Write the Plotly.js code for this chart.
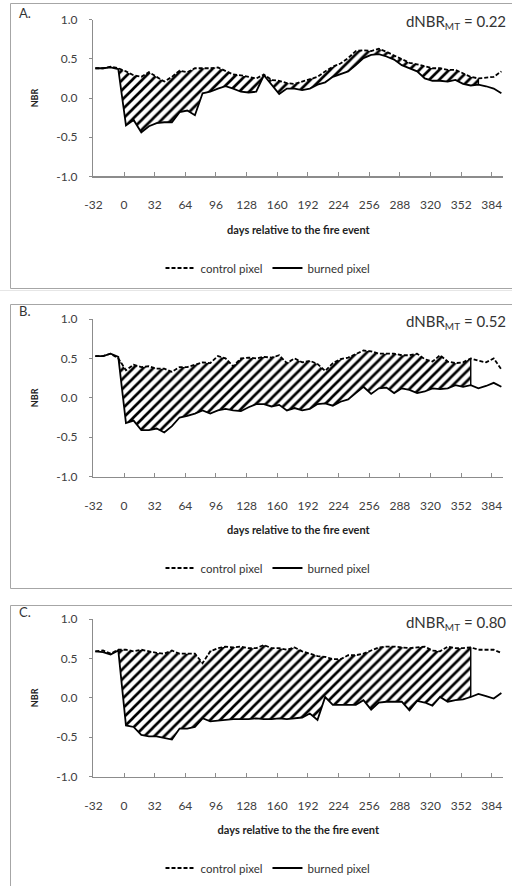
<!DOCTYPE html>
<html><head><meta charset="utf-8">
<script src="https://cdn.plot.ly/plotly-3.0.1.min.js"></script>
<style>html,body{margin:0;padding:0;background:#fff}#chart{width:512px;height:886px}</style>
</head><body><div id="chart"></div>
<script>
// ---- data ----
const days = [
  -30,-22,-14,-6,2,10,18,26,34,
  42,50,58,66,74,82,90,98,106,
  114,122,130,138,146,154,162,170,178,
  186,194,202,210,218,226,234,242,250,
  258,266,274,282,290,298,306,314,322,
  330,338,346,354,362,370,378,386,394
];
const controlA = [
  0.38,0.38,0.40,0.38,0.34,0.29,0.27,0.33,0.27,
  0.21,0.27,0.35,0.33,0.38,0.38,0.38,0.39,0.34,
  0.30,0.29,0.27,0.25,0.30,0.23,0.22,0.19,0.18,
  0.21,0.23,0.27,0.34,0.40,0.44,0.51,0.60,0.61,
  0.60,0.63,0.59,0.54,0.49,0.45,0.43,0.40,0.38,
  0.38,0.36,0.36,0.31,0.27,0.25,0.26,0.27,0.34
];
const burnedA = [
  0.38,0.38,0.39,0.37,-0.35,-0.28,-0.44,-0.36,-0.32,
  -0.31,-0.31,-0.18,-0.16,-0.22,0.06,0.08,0.12,0.15,
  0.12,0.08,0.07,0.08,0.29,0.17,0.05,0.12,0.12,
  0.10,0.12,0.17,0.20,0.27,0.31,0.34,0.42,0.51,
  0.55,0.56,0.53,0.49,0.42,0.38,0.34,0.25,0.22,
  0.22,0.21,0.23,0.18,0.16,0.17,0.15,0.12,0.06
];
const controlB = [
  0.53,0.53,0.56,0.50,0.35,0.42,0.39,0.40,0.37,
  0.37,0.33,0.39,0.39,0.42,0.45,0.44,0.53,0.50,
  0.40,0.50,0.51,0.50,0.52,0.51,0.54,0.44,0.50,
  0.45,0.47,0.43,0.34,0.44,0.49,0.51,0.56,0.60,
  0.59,0.56,0.56,0.56,0.54,0.54,0.56,0.49,0.46,
  0.54,0.46,0.44,0.45,0.50,0.47,0.45,0.50,0.36
];
const burnedB = [
  0.53,0.53,0.56,0.52,-0.32,-0.29,-0.41,-0.41,-0.39,
  -0.44,-0.36,-0.25,-0.23,-0.20,-0.16,-0.20,-0.16,-0.14,
  -0.16,-0.17,-0.12,-0.08,-0.08,-0.11,-0.09,-0.16,-0.13,
  -0.16,-0.14,-0.08,-0.07,-0.10,-0.05,-0.02,0.06,0.14,
  0.05,0.12,0.13,0.06,0.12,0.10,0.06,0.08,0.12,
  0.11,0.12,0.16,0.14,0.16,0.12,0.15,0.19,0.14
];
const controlC = [
  0.59,0.60,0.56,0.61,0.61,0.59,0.61,0.59,0.57,
  0.56,0.60,0.56,0.56,0.56,0.44,0.59,0.63,0.65,
  0.64,0.65,0.63,0.63,0.67,0.63,0.63,0.61,0.64,
  0.59,0.56,0.53,0.52,0.49,0.49,0.54,0.54,0.56,
  0.60,0.64,0.65,0.65,0.64,0.63,0.64,0.65,0.60,
  0.59,0.65,0.63,0.63,0.64,0.61,0.61,0.61,0.57
];
const burnedC = [
  0.59,0.58,0.55,0.60,-0.35,-0.37,-0.47,-0.49,-0.49,
  -0.51,-0.53,-0.39,-0.39,-0.37,-0.26,-0.30,-0.29,-0.28,
  -0.27,-0.27,-0.27,-0.26,-0.27,-0.27,-0.26,-0.27,-0.26,
  -0.25,-0.20,-0.28,0.01,-0.09,-0.09,-0.09,-0.09,-0.03,
  -0.15,-0.06,-0.05,-0.05,-0.05,-0.16,-0.04,-0.06,-0.10,
  0.01,-0.05,-0.03,-0.02,0.01,0.05,0.02,-0.01,0.06
];
const panelLetters = ['A.', 'B.', 'C.'];
const dnbrValues = ['0.22', '0.52', '0.80'];
const xTitles = ['days relative to the fire event', 'days relative to the fire event', 'days relative to the the fire event'];
const seriesNames = ['control pixel', 'burned pixel'];
const xTickVals = [-32,0,32,64,96,128,160,192,224,256,288,320,352,384];
const xTickText = ['-32','0','32','64','96','128','160','192','224','256','288','320','352','384'];
const yTickVals = [-1,-0.5,0,0.5,1];
const yTickText = ['-1.0','-0.5','0.0','0.5','1.0'];
const fillStartDay = -6;
const fillEndDay = [370, 362, 362];

const controls = [controlA, controlB, controlC];
const burneds = [burnedA, burnedB, burnedC];

// ---- geometry (pixels) ----
const W = 512, H = 886;
const py = v => 1 - v / H;
const pxx = v => v / W;
const panels = [
  {top: 19.7, bottom: 176.3, frameTop: 3.5, frameBottom: 288.5, letterY: 12.7, dnbrY: 21.7, legendY: 268},
  {top: 319, bottom: 476.6, frameTop: 304.5, frameBottom: 588.5, letterY: 310.7, dnbrY: 321.7, legendY: 568},
  {top: 619, bottom: 776.6, frameTop: 605.5, frameBottom: 905, letterY: 611.7, dnbrY: 622.7, legendY: 868}
];
const FONT = 'Lato, "Open Sans", sans-serif';
const AXC = '#8c8c8c';

const traces = [];
const layout = {
  width: W, height: H,
  margin: {l: 0, r: 0, t: 0, b: 0},
  paper_bgcolor: '#fff', plot_bgcolor: 'rgba(0,0,0,0)',
  font: {family: FONT, color: '#333'},
  showlegend: true,
  shapes: [], annotations: []
};

panels.forEach((P, p) => {
  const s = p === 0 ? '' : String(p + 1);
  const xa = 'x' + s, ya = 'y' + s;
  const ctrl = controls[p], burn = burneds[p];
  const idx = days.map((d, i) => i).filter(i => days[i] >= fillStartDay && days[i] <= fillEndDay[p]);
  const segX = idx.map(i => days[i]);
  const last = idx[idx.length - 1];

  traces.push({x: segX, y: idx.map(i => burn[i]), xaxis: xa, yaxis: ya, mode: 'lines',
    line: {width: 0, color: 'rgba(0,0,0,0)'}, showlegend: false, hoverinfo: 'skip'});
  traces.push({x: segX, y: idx.map(i => ctrl[i]), xaxis: xa, yaxis: ya, mode: 'lines',
    line: {width: 0, color: 'rgba(0,0,0,0)'}, fill: 'tonexty', fillcolor: '#fff',
    fillpattern: {shape: '/', fgcolor: '#000', bgcolor: '#fff', size: 7, solidity: 0.38},
    showlegend: false, hoverinfo: 'skip'});
  // closing edge of the hatched area
  traces.push({x: [days[last], days[last]], y: [burn[last], ctrl[last]], xaxis: xa, yaxis: ya,
    mode: 'lines', line: {width: 1.4, color: '#000'}, showlegend: false, hoverinfo: 'skip'});
  traces.push({x: days, y: ctrl, xaxis: xa, yaxis: ya, mode: 'lines', name: seriesNames[0],
    line: {color: '#000', width: 1.8, dash: '4px,2px'}, legend: 'legend' + s});
  traces.push({x: days, y: burn, xaxis: xa, yaxis: ya, mode: 'lines', name: seriesNames[1],
    line: {color: '#000', width: 1.8}, legend: 'legend' + s});

  layout['xaxis' + s] = {
    domain: [pxx(93.4), pxx(503.3)], range: [-32, 396], anchor: ya,
    tickmode: 'array', tickvals: xTickVals, ticktext: xTickText,
    ticks: 'inside', ticklen: 4, tickwidth: 1, tickcolor: AXC,
    showline: true, linecolor: AXC, linewidth: 1.5, showgrid: false, zeroline: false,
    tickfont: {family: FONT, size: 12, color: '#404040'}, ticklabelstandoff: 17,
    title: {text: xTitles[p], font: {family: FONT, size: 11, color: '#222', weight: 'bold'}, standoff: 15}
  };
  layout['yaxis' + s] = {
    domain: [py(P.bottom), py(P.top)], range: [-1, 1], anchor: xa,
    tickmode: 'array', tickvals: yTickVals, ticktext: yTickText,
    ticks: 'outside', ticklen: 3, tickwidth: 1, tickcolor: AXC,
    showline: true, linecolor: AXC, linewidth: 1.5, showgrid: false, zeroline: false,
    tickfont: {family: FONT, size: 12, color: '#404040'}, ticklabelstandoff: 9,
    title: {text: 'NBR', font: {family: FONT, size: 9, color: '#222', weight: 'bold'}, standoff: 16}
  };
  layout['legend' + s] = {
    orientation: 'h', x: pxx(268), xanchor: 'center', y: py(P.legendY), yanchor: 'middle',
    font: {family: FONT, size: 11.5, color: '#333'}, bgcolor: 'rgba(0,0,0,0)', itemwidth: 30,
    traceorder: 'normal'
  };
  layout.shapes.push({type: 'rect', xref: 'paper', yref: 'paper', x0: pxx(10.5), x1: 1.05,
    y0: py(P.frameBottom), y1: py(P.frameTop), line: {color: '#a6a6a6', width: 1},
    fillcolor: 'rgba(0,0,0,0)', layer: 'below'});
  layout.annotations.push({text: panelLetters[p], xref: 'paper', yref: 'paper', x: pxx(17), xanchor: 'left',
    y: py(P.letterY), yanchor: 'middle', showarrow: false, font: {family: FONT, size: 13, color: '#333'}});
  layout.annotations.push({text: 'dNBR<sub><span style="font-size:10px">MT</span></sub> = ' + dnbrValues[p],
    xref: 'paper', yref: 'paper',
    x: pxx(508), xanchor: 'right', y: py(P.dnbrY), yanchor: 'middle', showarrow: false,
    font: {family: FONT, size: 15, color: '#333'}});
});
layout.shapes.push({type: 'line', xref: 'paper', yref: 'paper', x0: 0, x1: 1, y0: py(290.5), y1: py(290.5),
  line: {color: '#e6e6e6', width: 1}, layer: 'below'});

Plotly.newPlot('chart', traces, layout, {staticPlot: true, displayModeBar: false});
</script></body></html>
